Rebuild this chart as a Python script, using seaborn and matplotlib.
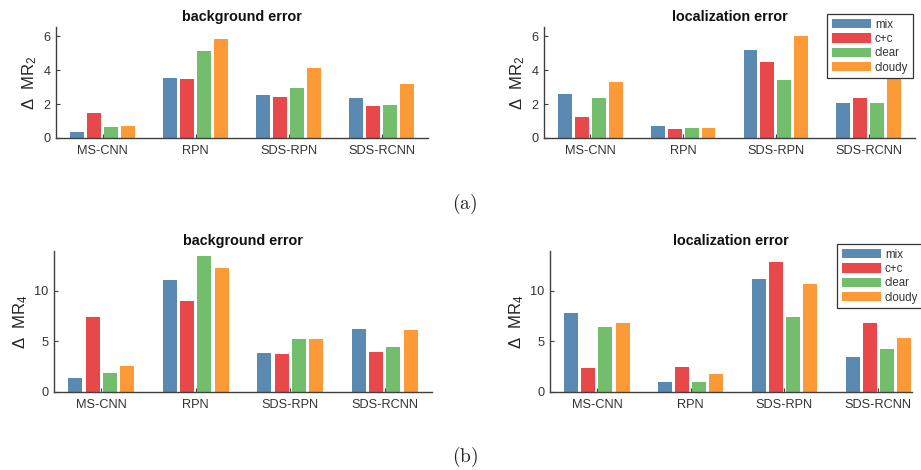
import matplotlib
matplotlib.use("Agg")
import matplotlib.pyplot as plt
import seaborn as sns
import pandas as pd

# ---------------- data ----------------
methods = ["MS-CNN", "RPN", "SDS-RPN", "SDS-RCNN"]
conditions = ["mix", "c+c", "clear", "cloudy"]

# (a) background error, delta MR_2
bg_mr2_mix = [0.37, 3.56, 2.56, 2.38]
bg_mr2_cc = [1.50, 3.50, 2.44, 1.91]
bg_mr2_clear = [0.67, 5.15, 2.97, 1.97]
bg_mr2_cloudy = [0.73, 5.86, 4.15, 3.21]

# (a) localization error, delta MR_2
loc_mr2_mix = [2.62, 0.73, 5.21, 2.09]
loc_mr2_cc = [1.26, 0.55, 4.51, 2.38]
loc_mr2_clear = [2.38, 0.61, 3.44, 2.09]
loc_mr2_cloudy = [3.32, 0.61, 6.04, 3.62]

# (b) background error, delta MR_4
bg_mr4_mix = [1.35, 11.02, 3.82, 6.18]
bg_mr4_cc = [7.37, 8.95, 3.72, 3.91]
bg_mr4_clear = [1.84, 13.39, 5.20, 4.41]
bg_mr4_cloudy = [2.53, 12.20, 5.20, 6.09]

# (b) localization error, delta MR_4
loc_mr4_mix = [7.76, 0.95, 11.12, 3.42]
loc_mr4_cc = [2.34, 2.43, 12.80, 6.78]
loc_mr4_clear = [6.38, 0.95, 7.37, 4.21]
loc_mr4_cloudy = [6.78, 1.74, 10.63, 5.30]

mr2_ticks = [0, 2, 4, 6]
mr4_ticks = [0, 5, 10]

colors = ["#5A8AB1", "#E8484A", "#72BE6C", "#FD9A38"]


def make_df(mix, cc, clear, cloudy):
    rows = []
    for cond, vals in zip(conditions, [mix, cc, clear, cloudy]):
        for m, v in zip(methods, vals):
            rows.append({"method": m, "condition": cond, "value": v})
    return pd.DataFrame(rows)


# ---------------- style ----------------
sns.set_theme(style="white")
plt.rcParams["font.family"] = ["Liberation Sans", "DejaVu Sans"]
plt.rcParams["mathtext.fontset"] = "custom"
plt.rcParams["mathtext.rm"] = "Liberation Sans"
plt.rcParams["mathtext.it"] = "Liberation Sans:italic"
plt.rcParams["mathtext.bf"] = "Liberation Sans:bold"

W, H = 921, 470
fig = plt.figure(figsize=(W / 100, H / 100), dpi=100)


def px_axes(x0, x1, ytop, ybot):
    return fig.add_axes([x0 / W, 1 - ybot / H, (x1 - x0) / W, (ybot - ytop) / H])


spine_col = "#404040"

panels = [
    dict(box=(56, 428, 27, 138), df=make_df(bg_mr2_mix, bg_mr2_cc, bg_mr2_clear, bg_mr2_cloudy),
         title="background error", ylabel=r"$\Delta\ \ \mathrm{MR}_{2}$", ylim=6.55, ticks=mr2_ticks,
         xlim=(-0.5, 3.5), legend=None),
    dict(box=(544, 915, 27, 138), df=make_df(loc_mr2_mix, loc_mr2_cc, loc_mr2_clear, loc_mr2_cloudy),
         title="localization error", ylabel=r"$\Delta\ \ \mathrm{MR}_{2}$", ylim=6.55, ticks=mr2_ticks,
         xlim=(-0.5, 3.5), legend=(827, 14)),
    dict(box=(54, 432, 251, 392), df=make_df(bg_mr4_mix, bg_mr4_cc, bg_mr4_clear, bg_mr4_cloudy),
         title="background error", ylabel=r"$\Delta\ \ \mathrm{MR}_{4}$", ylim=13.9, ticks=mr4_ticks,
         xlim=(-0.5, 3.5), legend=None),
    dict(box=(550, 912, 251, 392), df=make_df(loc_mr4_mix, loc_mr4_cc, loc_mr4_clear, loc_mr4_cloudy),
         title="localization error", ylabel=r"$\Delta\ \ \mathrm{MR}_{4}$", ylim=13.9, ticks=mr4_ticks,
         xlim=(-0.5, 3.36), legend=(837, 244)),
]

for p in panels:
    ax = px_axes(*p["box"])
    sns.barplot(data=p["df"], x="method", y="value", hue="condition", order=methods,
                hue_order=conditions, palette=colors, width=0.73, gap=0.18,
                errorbar=None, saturation=1, linewidth=0, edgecolor="none",
                ax=ax, legend=True)
    handles, labels = ax.get_legend_handles_labels()
    ax.get_legend().remove()
    ax.set_xlim(*p["xlim"])
    ax.set_ylim(0, p["ylim"])
    ax.set_yticks(p["ticks"])
    ax.set_xlabel("")
    ax.set_ylabel(p["ylabel"], fontsize=12, color="#262626", labelpad=3)
    ax.set_title(p["title"], fontsize=10.4, fontweight="bold", color="#111111", pad=4)
    for s in ["top", "right"]:
        ax.spines[s].set_visible(False)
    for s in ["left", "bottom"]:
        ax.spines[s].set_color(spine_col)
        ax.spines[s].set_linewidth(1.0)
    ax.tick_params(axis="both", direction="in", length=3, width=0.8, color=spine_col,
                   labelsize=9.2, labelcolor="#333333", left=True, bottom=True)
    ax.tick_params(axis="x", pad=5)
    ax.tick_params(axis="y", pad=4)
    if p["legend"] is not None:
        lx, ly = p["legend"]
        leg = ax.legend(handles, labels, loc="upper left", bbox_to_anchor=(lx / W, 1 - ly / H),
                        bbox_transform=fig.transFigure, borderaxespad=0, fontsize=8.3,
                        handlelength=3.4, handleheight=0.85, labelspacing=0.2,
                        handletextpad=0.35, borderpad=0.4, frameon=True, fancybox=False,
                        framealpha=1, edgecolor="#333333")
        leg.get_frame().set_linewidth(0.9)
        for h in leg.legend_handles:
            h.set_linewidth(0)
        for t in leg.get_texts():
            t.set_color("#333333")

fig.text(465 / W, 1 - 204 / H, r"$\mathrm{(a)}$", math_fontfamily="cm", fontsize=14,
         ha="center", va="center", color="#222222")
fig.text(465 / W, 1 - 457 / H, r"$\mathrm{(b)}$", math_fontfamily="cm", fontsize=14,
         ha="center", va="center", color="#222222")

fig.savefig("out.png", dpi=100)
